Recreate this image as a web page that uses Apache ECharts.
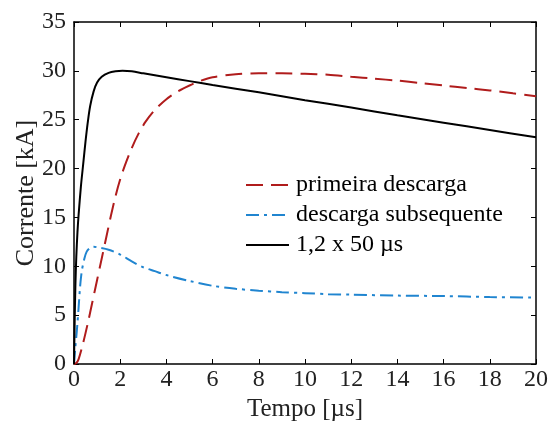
<!DOCTYPE html>
<html><head><meta charset="utf-8">
<script src="https://cdn.jsdelivr.net/npm/echarts@6/dist/echarts.min.js"></script>
<style>html,body{margin:0;padding:0;background:#fff}#c{width:549px;height:421px}</style>
</head><body><div id="c"></div>
<script>
const xTicks = [0,2,4,6,8,10,12,14,16,18,20];
const yTicks = [0,5,10,15,20,25,30,35];
const seriesNames = ['primeira descarga','descarga subsequente','1,2 x 50 µs'];
const primeira = [[0,0],[0.1,0.1],[0.2,0.5],[0.4,2.2],[0.6,4.2],[0.8,6.4],[1.0,8.6],[1.2,10.8],[1.4,13.0],[1.6,15.2],[1.8,17.2],[2.0,18.9],[2.2,20.3],[2.5,22.1],[2.8,23.6],[3.1,24.8],[3.5,26.0],[4.0,27.1],[4.5,27.9],[5.0,28.5],[5.5,29.0],[6.0,29.35],[7.0,29.65],[8.0,29.75],[9.0,29.75],[10.0,29.7],[11.0,29.6],[12.0,29.4],[13.0,29.2],[14.0,29.0],[15.0,28.75],[16.0,28.5],[17.0,28.25],[18.0,28.0],[19.0,27.7],[20.0,27.4]];
const subsequente = [[0,0],[0.05,1.5],[0.1,2.8],[0.15,4.2],[0.2,5.8],[0.25,7.5],[0.3,8.8],[0.35,9.7],[0.45,10.8],[0.55,11.5],[0.7,11.9],[0.85,12.0],[1.0,11.95],[1.5,11.7],[2.0,11.2],[2.5,10.5],[3.0,9.9],[3.5,9.5],[4.0,9.1],[5.0,8.5],[6.0,8.0],[7.0,7.7],[8.0,7.5],[9.0,7.35],[10.0,7.25],[11.0,7.15],[12.0,7.1],[14.0,7.0],[16.0,6.95],[18.0,6.85],[20.0,6.8]];
const impulso = [[0,0],[0.03,4.5],[0.06,8],[0.1,11],[0.15,13.5],[0.2,15.3],[0.3,18.2],[0.4,20.5],[0.5,22.8],[0.6,24.8],[0.7,26.4],[0.85,27.9],[1.0,28.8],[1.2,29.4],[1.5,29.8],[1.8,29.95],[2.1,30.0],[2.5,29.95],[3.0,29.75],[4.0,29.35],[5.0,28.95],[6.0,28.55],[8.0,27.8],[10.0,27.0],[12.0,26.25],[14.0,25.45],[16.0,24.7],[18.0,23.95],[20.0,23.2]];

const FONT = '"Liberation Serif","Times New Roman",serif';
const chart = echarts.init(document.getElementById('c'));
const tickStyle = {show:true,inside:true,length:5,lineStyle:{color:'#000',width:1}};
const lineStyleAx = {show:true,onZero:false,lineStyle:{color:'#000',width:1.5}};
chart.setOption({
  animation:false,
  grid:{left:74,right:13,top:22,bottom:57,containLabel:false,outerBoundsMode:'none'},
  legend:{
    data:seriesNames,
    orient:'vertical',
    left:240, top:168,
    itemWidth:43, itemHeight:14, itemGap:6,
    itemStyle:{opacity:0},
    textStyle:{fontFamily:FONT,fontSize:24,color:'#000',padding:[0,0,0,2]}
  },
  xAxis:[{
    type:'value',min:0,max:20,interval:2,
    name:'Tempo [µs]',nameLocation:'middle',nameGap:33,nameMoveOverlap:false,
    nameTextStyle:{fontFamily:FONT,fontSize:25,color:'#222'},
    axisLine:lineStyleAx,
    axisTick:tickStyle,
    axisLabel:{fontFamily:FONT,fontSize:24,color:'#222',margin:4},
    splitLine:{show:false}
  },{
    type:'value',min:0,max:20,interval:2,position:'top',
    axisLine:lineStyleAx,
    axisTick:tickStyle,axisLabel:{show:false},splitLine:{show:false}
  }],
  yAxis:[{
    type:'value',min:0,max:35,interval:5,
    name:'Corrente [kA]',nameLocation:'middle',nameGap:35,nameMoveOverlap:false,
    nameTextStyle:{fontFamily:FONT,fontSize:26,color:'#222'},
    axisLine:lineStyleAx,
    axisTick:tickStyle,
    axisLabel:{fontFamily:FONT,fontSize:24,color:'#222',margin:8},
    splitLine:{show:false}
  },{
    type:'value',min:0,max:35,interval:5,position:'right',
    axisLine:lineStyleAx,
    axisTick:tickStyle,axisLabel:{show:false},splitLine:{show:false}
  }],
  series:[
    {name:seriesNames[0],type:'line',data:primeira,showSymbol:false,symbol:'none',smooth:0.3,
     lineStyle:{color:'#b01c1c',width:2,type:[17,8]},itemStyle:{color:'#b01c1c'}},
    {name:seriesNames[1],type:'line',data:subsequente,showSymbol:false,symbol:'none',smooth:0.3,
     lineStyle:{color:'#2085d0',width:2,type:[13,5,3,5]},itemStyle:{color:'#2085d0'}},
    {name:seriesNames[2],type:'line',data:impulso,showSymbol:false,symbol:'none',smooth:0.3,
     lineStyle:{color:'#000',width:2},itemStyle:{color:'#000'}}
  ]
});
</script></body></html>
